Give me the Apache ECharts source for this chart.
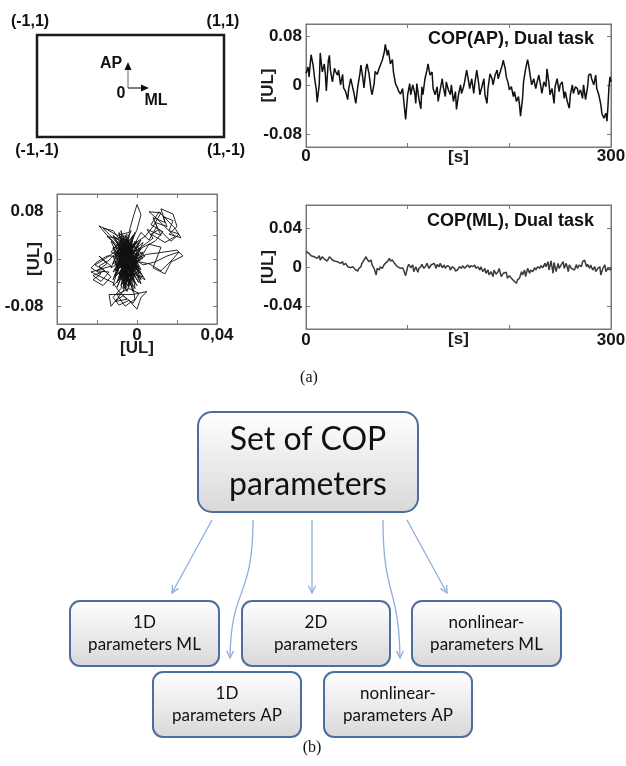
<!DOCTYPE html>
<html><head><meta charset="utf-8">
<script src="https://cdn.jsdelivr.net/npm/echarts@6/dist/echarts.min.js"></script>
<style>html,body{margin:0;padding:0;background:#fff}#c{width:626px;height:766px}</style>
</head><body><div id="c"></div>
<script>
// ---- data ----
const apTime = [0,1,2,3,5,7,8.5,10,11,13,14,16,18,19,20,22,23,24,26,28,29,31,32,34,36,37,39,41,42,44,46,47,49,51,53,54,56,57,59,60,62,64,65,67,68,70,72,73,75,77,78,80,81,83,85,86,88,90,91,93,95,96,97,98,100,102,103,105,107,108,109,111,113,114,115,117,119,120,122,124,125,127,129,130,132,134,135,137,138,140,142,143,145,147,148,150,152,153,155,156,158,160,161,163,165,166,168,170,171,173,175,176,178,179,181,183,184,186,188,189,191,193,194,196,197,199,200,202,204,205,207,209,210,211,213,214,216,218,219,221,222,224,226,227,229,231,232,234,236,237,239,240,242,244,245,247,249,250,252,254,255,257,259,260,262,263,265,267,268,270,272,273,275,277,278,280,281,283,285,286,288,290,291,293,295,296,297,298,299,300];
const apVal = [0.020,0.022,0.030,0.014,0.050,0.033,0.011,-0.005,-0.027,0.001,0.053,0.022,0.035,0.019,-0.009,0.041,0.049,0.025,0.006,0.028,0.023,0.017,0.025,0.001,0.018,-0.004,-0.010,-0.023,-0.005,0.011,-0.004,-0.011,-0.029,-0.001,0.019,0.033,0.011,-0.004,0.028,0.035,0.019,-0.007,-0.015,0.003,0.023,0.018,0.028,0.031,0.041,0.054,0.067,0.049,0.058,0.035,0.042,0.022,0.003,-0.004,-0.009,-0.014,-0.005,-0.022,-0.039,-0.055,-0.015,0.003,-0.015,0.001,-0.013,-0.029,0.003,-0.021,-0.038,-0.002,-0.015,0.011,0.025,0.035,0.017,0.022,-0.005,-0.015,-0.002,-0.026,-0.007,0.011,-0.002,-0.018,0.006,-0.007,-0.015,0.001,-0.026,-0.010,-0.039,-0.015,0.001,-0.013,-0.002,0.006,0.025,0.006,-0.005,0.011,-0.013,0.003,0.025,0.001,-0.015,-0.002,0.011,-0.015,-0.029,-0.005,0.019,0.011,0.001,0.017,0.025,0.011,0.022,0.033,0.041,0.027,0.014,0.003,-0.007,-0.002,-0.018,-0.010,-0.026,-0.018,-0.031,-0.050,-0.021,0.006,0.027,0.042,0.033,0.011,0.001,0.011,-0.005,0.003,0.017,-0.002,-0.013,0.006,-0.002,0.027,0.003,-0.015,-0.005,-0.029,-0.002,0.011,-0.010,0.001,0.006,-0.021,-0.010,-0.026,-0.037,-0.015,0.001,-0.013,-0.002,-0.005,-0.015,-0.007,-0.021,0.001,-0.023,-0.002,0.017,0.019,0.011,0.001,0.017,-0.005,-0.015,-0.031,-0.045,-0.053,-0.045,-0.058,-0.034,-0.002,0.014,0.006];

const mlTime = [0,1,3,5,6,8,9.5,11,13,14,16,18,19,21,23,24,26,28,29,31,32,34,36,37,39,41,42,44,46,47,49,51,52,54,55,57,59,60,62,64,65,67,69,70,72,73,75,77,78,80,82,83,85,87,88,90,91,93,95,96,98,100,101,103,105,106,108,110,111,113,114,116,118,119,121,123,124,126,128,129,131,132,134,136,137,139,141,142,144,146,147,149,151,153,154,156,157,159,161,162,164,166,167,169,171,172,174,176,177,179,180,182,184,185,187,189,190,192,194,195,197,198,200,202,203,205,207,208,210,212,213,215,216,218,220,221,223,225,226,228,230,231,233,235,236,238,239,241,243,244,246,248,249,251,253,254,256,258,259,261,262,264,266,267,269,271,272,274,276,277,279,280,282,284,285,287,289,290,292,294,295,297,299,300];
const mlVal = [0.016,0.016,0.014,0.0116,0.013,0.0106,0.0123,0.0089,0.0116,0.0072,0.0106,0.0082,0.0096,0.0062,0.0106,0.0089,0.0072,0.0062,0.0082,0.0055,0.0068,0.0038,0.0055,0.0021,0.0038,0.0003,0.0014,-0.0007,0.0003,-0.0014,-0.0031,-0.0041,-0.0014,0.0003,0.0038,0.0072,0.0106,0.0082,0.0055,0.0072,0.0021,-0.0014,-0.0082,-0.0014,-0.0031,0.0003,-0.0014,0.0027,0.0021,0.0055,0.0089,0.0062,0.0072,0.0038,0.0021,0.0003,0.0014,-0.0014,-0.0007,-0.0031,-0.0089,0.0003,0.0027,-0.0007,0.0021,-0.0048,0.0003,-0.0055,-0.0014,0.0003,0.0027,-0.0014,0.0014,0.0038,-0.0014,0.0021,0.0003,0.0038,-0.0014,0.0027,0.0003,0.0038,-0.0007,0.0021,-0.0014,0.0014,0.0003,-0.0031,0.0003,-0.0014,-0.0041,-0.0031,0.0003,-0.0014,0.0014,-0.0014,0.0003,0.0021,-0.0007,0.0014,0.0003,0.0021,-0.0014,0.0003,-0.0031,0.0003,-0.0048,-0.0014,-0.0065,-0.0031,-0.0082,-0.0048,-0.0099,-0.0031,-0.0075,-0.0048,-0.0014,-0.0099,-0.0065,-0.0082,-0.0055,-0.0116,-0.0089,-0.0116,-0.0099,-0.0150,-0.0168,-0.0133,-0.0116,-0.0048,-0.0082,-0.0031,-0.0099,-0.0014,-0.0065,-0.0031,-0.0048,-0.0007,-0.0031,0.0003,-0.0014,0.0014,-0.0007,0.0038,0.0003,0.0055,-0.0031,0.0062,-0.0065,0.0048,-0.0048,0.0038,-0.0014,0.0021,0.0055,-0.0014,0.0038,-0.0048,0.0021,-0.0014,0.0003,-0.0031,0.0027,-0.0014,0.0021,0.0003,0.0055,0.0072,0.0003,0.0027,-0.0014,0.0021,-0.0031,0.0003,-0.0048,-0.0014,0.0003,-0.0082,-0.0014,0.0021,-0.0048,-0.0014,-0.0031,-0.0007];

// statokinesigram path (ML, AP)
const stabML = [-0.005,-0.008,-0.003,-0.010,0.002,-0.006,-0.012,0.000,-0.004,-0.009,0.003,-0.007,-0.002,-0.011,0.004,-0.005,-0.010,0.001,-0.008,0.002,0.006,0.010,0.008,0.014,0.012,0.018,0.020,0.016,0.022,0.019,0.015,0.011,0.007,0.013,0.009,0.003,-0.006,-0.001,-0.009,-0.003,-0.012,0.001,-0.007,-0.002,-0.010,0.000,-0.008,-0.004,0.000,0.002,0.000,-0.002,-0.004,-0.010,-0.015,-0.019,-0.016,-0.012,-0.005,-0.009,-0.001,-0.007,-0.013,-0.003,-0.015,-0.020,-0.023,-0.018,-0.022,-0.017,-0.013,-0.019,-0.014,-0.006,-0.011,0.000,-0.008,-0.004,-0.008,-0.012,-0.009,-0.004,0.000,0.002,0.005,-0.002,-0.014,-0.013,-0.007,-0.003,-0.010,0.002,-0.006,-0.001,0.005,0.010,0.020,0.023,0.017,0.014,0.008,0.012,0.006,-0.005,-0.009,-0.002,-0.011,0.001,-0.006,-0.004,-0.008,-0.005,
  -0.009,0.001,-0.011,-0.002,-0.007,0.003,-0.012,-0.004,-0.001,-0.010,0.002,-0.008,-0.005,-0.013,0.000,-0.006,-0.003,-0.011,0.004,-0.009,-0.002,-0.007,-0.012,0.001,-0.005,-0.010,-0.001,-0.008,0.003,-0.006,-0.013,-0.003,-0.009,0.000,-0.007,-0.004,-0.011,0.002,-0.006,-0.008,-0.002,-0.012,-0.005,0.001,-0.009,-0.003,-0.010,-0.001,-0.007,-0.004,-0.012,0.000,-0.006,-0.009,0.002,-0.005,-0.011,-0.003,-0.008,0.001,-0.007,-0.002,-0.010,-0.004,-0.006,-0.001,-0.012,-0.005,0.003,-0.008,-0.003,-0.009,-0.006,0.000,-0.011,-0.004,-0.007,-0.002,-0.010,0.001,-0.005,-0.008,-0.003,-0.012,-0.006,0.000,-0.009,-0.004,-0.007,-0.001,-0.011,-0.005,0.002,-0.008,-0.003,-0.006,
  0.002,0.008,0.005,0.012,0.009,0.015,0.013,0.018,0.016,0.021,0.017,0.011,0.007,0.014,0.019,0.010,0.006,0.012,0.008,0.004,-0.002,-0.012,-0.017,-0.021,-0.016,-0.022,-0.018,-0.014,-0.020,-0.015,-0.019,-0.013,-0.023,-0.017,-0.012,-0.009,-0.005,-0.011,-0.007,-0.002,0.001,-0.004,-0.010,-0.006,-0.001,-0.003,-0.008,-0.014,-0.017,-0.012,-0.009,-0.015,-0.006,0.003,0.009,0.015,0.021,0.018,0.012,0.006,-0.004];
const stabAP = [0.000,0.022,-0.028,0.012,-0.018,0.035,-0.008,0.015,-0.045,0.025,0.002,-0.025,0.040,-0.005,-0.035,0.015,-0.040,0.028,-0.015,0.045,0.032,0.055,0.070,0.062,0.085,0.076,0.055,0.042,0.036,0.052,0.066,0.080,0.058,0.046,0.030,0.020,-0.010,0.030,-0.030,0.010,0.020,-0.040,0.005,-0.055,0.030,-0.005,-0.045,0.020,0.050,0.075,0.092,0.070,0.045,0.040,0.050,0.056,0.044,0.030,-0.020,0.010,-0.030,0.035,-0.015,0.005,0.005,-0.005,-0.015,-0.025,-0.035,-0.045,-0.030,-0.012,-0.002,0.025,-0.020,0.010,-0.035,0.030,-0.050,-0.065,-0.078,-0.070,-0.085,-0.065,-0.055,-0.060,-0.060,-0.080,-0.055,-0.015,0.015,-0.025,0.040,0.000,0.008,0.010,0.015,0.005,-0.005,-0.025,-0.015,0.020,0.025,-0.035,0.005,-0.010,0.035,0.018,-0.048,0.012,-0.005,0.000,
  0.030,-0.020,0.008,0.038,-0.042,0.012,-0.022,0.026,-0.050,0.000,0.032,-0.030,0.042,0.012,-0.012,-0.052,0.022,-0.028,0.005,0.040,-0.035,0.015,-0.045,-0.002,0.033,-0.015,0.045,-0.020,-0.030,0.008,0.030,-0.045,0.018,-0.008,-0.038,0.038,-0.010,0.020,-0.025,0.048,-0.018,0.005,-0.055,0.010,-0.035,0.028,-0.022,-0.040,0.022,-0.012,0.040,0.005,-0.045,0.012,-0.035,0.025,-0.030,-0.005,0.035,-0.025,-0.010,0.015,-0.048,0.000,0.030,-0.022,0.018,-0.038,0.028,-0.005,-0.030,0.045,-0.018,-0.045,0.022,0.010,-0.050,0.035,-0.008,-0.012,-0.028,0.015,0.048,-0.035,0.005,0.030,-0.025,-0.048,0.040,-0.005,-0.018,0.018,-0.042,0.025,-0.020,0.000,
  0.020,0.035,0.050,0.040,0.062,0.055,0.072,0.065,0.048,0.042,0.030,0.050,0.042,0.028,0.038,0.068,0.080,0.078,0.055,0.038,0.025,0.010,-0.002,-0.010,-0.020,-0.028,-0.038,-0.022,-0.020,-0.008,0.005,-0.012,-0.022,-0.032,-0.040,-0.055,-0.068,-0.072,-0.062,-0.075,-0.058,-0.050,-0.060,-0.080,-0.068,-0.030,0.020,0.042,0.052,0.048,0.035,0.038,0.012,-0.010,-0.005,0.005,0.012,0.000,-0.020,-0.008,-0.002];

const apTicks = [-0.08, 0, 0.08];
const mlTicks = [-0.04, 0, 0.04];
const stabYTicks = [-0.08, -0.04, 0, 0.04, 0.08];
const stabYLabels = [-0.08, 0, 0.08];
const stabXTicks = [-0.02, 0, 0.02];
const stabXLabels = [-0.04, 0, 0.04];
const timeLabels = [0, 300];

// ---- chart ----
const FONT = 'Liberation Sans';
const AX = '#777';
const TXT = '#151515';
const lblStyle = {fontFamily: FONT, fontWeight: 'bold', fontSize: 17, color: TXT};
const nameStyle = {fontFamily: FONT, fontWeight: 'bold', fontSize: 17, color: '#1c1a22'};

function fmt(v){ return v === 0 ? '0' : v.toFixed(2); }
const LINE = {show:true, onZero:false, lineStyle:{color:AX}};

function timeAxis(g, margin){
  return [{
    type:'value', gridIndex:g, min:0, max:300, interval:100,
    axisLine:LINE, axisTick:{show:true, inside:true, length:4, lineStyle:{color:AX}},
    splitLine:{show:false},
    axisLabel:Object.assign({margin:margin, showMinLabel:true, showMaxLabel:true,
      formatter:v => timeLabels.indexOf(v) >= 0 ? String(v) : ''}, lblStyle),
    name:'[s]', nameLocation:'middle', nameGap:2, nameMoveOverlap:false, nameTextStyle:nameStyle
  },{
    type:'value', gridIndex:g, position:'top', min:0, max:300, interval:100,
    axisLine:LINE, axisTick:{show:true, inside:true, length:4, lineStyle:{color:AX}},
    axisLabel:{show:false}, splitLine:{show:false}
  }];
}
function valAxis(g, lim, ticks, gap){
  return [{
    type:'value', gridIndex:g, min:-lim, max:lim,
    axisLine:LINE,
    axisTick:{show:true, inside:true, length:4, customValues:ticks, lineStyle:{color:AX}},
    axisLabel:Object.assign({margin:4, customValues:ticks, formatter:fmt}, lblStyle),
    splitLine:{show:false},
    name:'[UL]', nameLocation:'middle', nameRotate:90, nameGap:gap, nameMoveOverlap:false, nameTextStyle:nameStyle
  },{
    type:'value', gridIndex:g, position:'right', min:-lim, max:lim,
    axisLine:LINE,
    axisTick:{show:true, inside:true, length:4, customValues:ticks, lineStyle:{color:AX}},
    axisLabel:{show:false}, splitLine:{show:false}
  }];
}

const xAxes = [].concat(
  timeAxis(0, 1),
  [{
    type:'value', gridIndex:1, min:-0.04, max:0.04,
    axisLine:LINE,
    axisTick:{show:true, inside:true, length:4, customValues:stabXTicks, lineStyle:{color:AX}},
    axisLabel:Object.assign({margin:3, customValues:stabXLabels, alignMinLabel:'left',
      formatter:v => v < 0 ? '04' : (v === 0 ? '0' : '0,04')}, lblStyle),
    splitLine:{show:false},
    name:'[UL]', nameLocation:'middle', nameGap:16, nameMoveOverlap:false, nameTextStyle:nameStyle
  },{
    type:'value', gridIndex:1, position:'top', min:-0.04, max:0.04,
    axisLine:LINE,
    axisTick:{show:true, inside:true, length:4, customValues:stabXTicks, lineStyle:{color:AX}},
    axisLabel:{show:false}, splitLine:{show:false}
  }],
  timeAxis(2, 3)
);
const stabY = valAxis(1, 0.11, stabYTicks, 14);
stabY[0].axisLabel.customValues = stabYLabels;
stabY[0].axisLabel.formatter = v => v === 0 ? '0' : v.toFixed(2) + '  ';
const yAxes = [].concat(valAxis(0, 0.1, apTicks, 29), stabY, valAxis(2, 0.064, mlTicks, 29));

// ---- decorative graphics (schematic & diagram) ----
const BF = 'bold 16px "Liberation Sans"';
function txt(x, y, s, font, align, fill){
  return {type:'text', x:x, y:y, style:{text:s, font:font, fill:fill||'#111', textAlign:align||'center', align:align||'center', textVerticalAlign:'middle', verticalAlign:'middle'}};
}
const BLUE = '#8eaedb';
function head(tx, ty, dx, dy){
  const L = Math.hypot(dx, dy), ux = -dx / L, uy = -dy / L, c = Math.cos(0.45), s = Math.sin(0.45), n = 8;
  return {type:'polyline', shape:{points:[[tx + n*(ux*c - uy*s), ty + n*(ux*s + uy*c)], [tx, ty], [tx + n*(ux*c + uy*s), ty + n*(-ux*s + uy*c)]]}, style:{stroke:BLUE, lineWidth:1.3, fill:null}};
}
function box(x, y, w, h, r, lines, font, lh){
  return [{type:'rect', shape:{x:x, y:y, width:w, height:h, r:r},
    style:{fill:{type:'linear', x:0, y:0, x2:0, y2:1, colorStops:[{offset:0, color:'#ffffff'}, {offset:1, color:'#d8d8d8'}]},
      stroke:'#4d6f9e', lineWidth:2}},
    {type:'text', x:x + w/2, y:y + h/2, style:{text:lines, font:font, fill:'#111', lineHeight:lh, textAlign:'center', align:'center', textVerticalAlign:'middle', verticalAlign:'middle'}}];
}
const SF = '17px Lato';
const graphics = [
  {type:'rect', shape:{x:37, y:35, width:187, height:102}, style:{fill:null, stroke:'#1a1a1a', lineWidth:2.5}},
  txt(30, 22, '(-1,1)', BF), txt(223, 22, '(1,1)', BF), txt(37, 151, '(-1,-1)', BF), txt(226, 151, '(1,-1)', BF),
  {type:'line', shape:{x1:128, y1:88, x2:128, y2:70}, style:{stroke:'#999', lineWidth:1.5}},
  {type:'polygon', shape:{points:[[128,62],[124.5,70],[131.5,70]]}, style:{fill:'#111'}},
  {type:'line', shape:{x1:128, y1:88, x2:142, y2:88}, style:{stroke:'#555', lineWidth:1.5}},
  {type:'polygon', shape:{points:[[149,88],[141,84.5],[141,91.5]]}, style:{fill:'#111'}},
  txt(111, 64, 'AP', BF), txt(121, 94, '0', BF), txt(156, 101, 'ML', BF),
  txt(594, 39, 'COP(AP), Dual task', 'bold 18px "Liberation Sans"', 'right'),
  txt(594, 221, 'COP(ML), Dual task', 'bold 18px "Liberation Sans"', 'right'),
  txt(309, 378, '(a)', '16px "Liberation Serif"'),
  txt(312, 748, '(b)', '16px "Liberation Serif"'),
  // arrows
  {type:'line', shape:{x1:212, y1:520, x2:172, y2:593}, style:{stroke:BLUE, lineWidth:1.3}},
  head(172, 593, -40, 73),
  {type:'line', shape:{x1:312, y1:520, x2:312, y2:593}, style:{stroke:BLUE, lineWidth:1.3}},
  head(312, 593, 0, 1),
  {type:'line', shape:{x1:407, y1:520, x2:447, y2:593}, style:{stroke:BLUE, lineWidth:1.3}},
  head(447, 593, 40, 73),
  {type:'bezierCurve', shape:{x1:253, y1:520, cpx1:253, cpy1:600, cpx2:231, cpy2:585, x2:230, y2:658}, style:{stroke:BLUE, lineWidth:1.3, fill:null}},
  head(230, 658, -1, 73),
  {type:'bezierCurve', shape:{x1:383, y1:520, cpx1:383, cpy1:598, cpx2:399, cpy2:585, x2:400, y2:658}, style:{stroke:BLUE, lineWidth:1.3, fill:null}},
  head(400, 658, 1, 73)
].concat(
  box(198, 412, 220, 100, 14, 'Set of COP\nparameters', '32px Lato', 45),
  box(70, 601, 149, 65, 10, '1D\nparameters ML', SF, 22),
  box(242, 601, 148, 65, 10, '2D\nparameters', SF, 22),
  box(412, 601, 149, 65, 10, 'nonlinear-\nparameters ML', SF, 22),
  box(153, 672, 148, 65, 10, '1D\nparameters AP', SF, 22),
  box(324, 672, 148, 65, 10, 'nonlinear-\nparameters AP', SF, 22)
);

const chart = echarts.init(document.getElementById('c'), null, {renderer:'canvas'});
chart.setOption({
  animation:false,
  backgroundColor:'#ffffff',
  grid:[
    {left:306, top:24, width:305, height:123, show:true, borderColor:AX, borderWidth:1, outerBoundsMode:'none', containLabel:false},
    {left:57, top:194, width:160, height:130, show:true, borderColor:AX, borderWidth:1, outerBoundsMode:'none', containLabel:false},
    {left:306, top:205, width:305, height:124, show:true, borderColor:AX, borderWidth:1, outerBoundsMode:'none', containLabel:false}
  ],
  xAxis:xAxes,
  yAxis:yAxes,
  series:[
    {type:'line', xAxisIndex:0, yAxisIndex:0, showSymbol:false, symbol:'none',
      lineStyle:{color:'#111', width:1.5}, data:apTime.map((t, i) => [t, apVal[i]])},
    {type:'line', xAxisIndex:2, yAxisIndex:2, showSymbol:false, symbol:'none',
      lineStyle:{color:'#111', width:0.9}, data:stabML.map((x, i) => [x, stabAP[i]])},
    {type:'line', xAxisIndex:4, yAxisIndex:4, showSymbol:false, symbol:'none',
      lineStyle:{color:'#3a3a3a', width:1.5}, data:mlTime.map((t, i) => [t, mlVal[i]])}
  ],
  graphic:graphics
});
</script></body></html>
